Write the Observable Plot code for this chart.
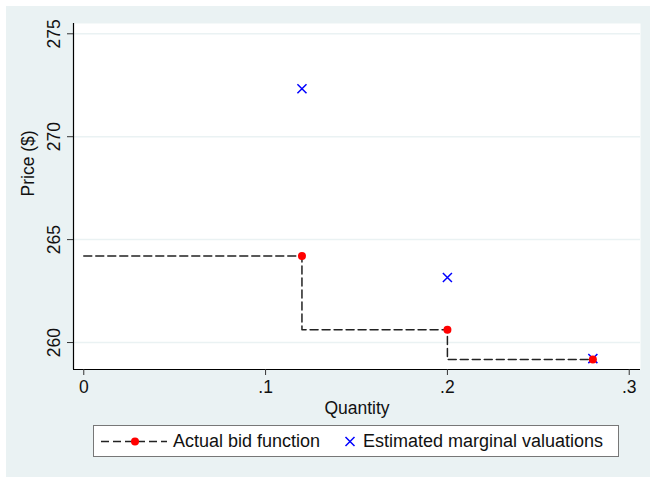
<!DOCTYPE html>
<html>
<head>
<meta charset="utf-8">
<script src="https://cdn.jsdelivr.net/npm/d3@7"></script>
<script src="https://cdn.jsdelivr.net/npm/@observablehq/plot@0.6"></script>
<style>
  html, body { margin: 0; padding: 0; background: #ffffff; }
  #wrap { position: relative; width: 650px; height: 477px; overflow: hidden; font-family: Arial, "Liberation Sans", sans-serif; }
  #bg { position: absolute; left: 6px; top: 6px; right: 0; bottom: 0; background: #EAF2F3; }
  #chart { position: absolute; left: 0; top: 0; }
  #legend { position: absolute; left: 93px; top: 425px; width: 524px; height: 30px; background: #fff; border: 1.5px solid #777; box-sizing: content-box; }
  #legend .item { position: absolute; top: 0; height: 30px; line-height: 30px; font-size: 18px; color: #111; white-space: nowrap; }
  #legend svg { position: absolute; top: 0; }
</style>
</head>
<body>
<div id="wrap">
  <div id="bg"></div>
  <div id="chart"></div>
  <div id="legend"></div>
</div>
<script>
// ---- data ----
const quantity = [0.12, 0.2, 0.28];
const bidPrice = [264.2, 260.62, 259.17];
const valuation = [272.33, 263.16, 259.22];
const bidStartQuantity = 0;
const xTicks = [0, 0.1, 0.2, 0.3];
const xTickLabels = ["0", ".1", ".2", ".3"];
const yTicks = [260, 265, 270, 275];
const seriesNames = ["Actual bid function", "Estimated marginal valuations"];
const xLabel = "Quantity";
const yLabel = "Price ($)";

// tables built from the arrays
const bidPoints = quantity.map((q, i) => ({q, p: bidPrice[i]}));
const stepLine = [{q: bidStartQuantity, p: bidPrice[0]}, ...bidPoints];
const valPoints = quantity.map((q, i) => ({q, p: valuation[i]}));
const xLab = new Map(xTicks.map((t, i) => [t, xTickLabels[i]]));

const fs = 17.5;
const chart = Plot.plot({
  width: 650,
  height: 420,
  marginLeft: 73,
  marginRight: 10,
  marginTop: 23,
  marginBottom: 51,
  style: {background: "transparent", fontFamily: "Arial, 'Liberation Sans', sans-serif", fontSize: fs + "px", color: "#111"},
  x: {domain: [-0.00565, 0.3062], axis: null},
  y: {domain: [258.69, 275.5], axis: null},
  marks: [
    Plot.frame({fill: "white", stroke: null}),
    Plot.ruleY(yTicks, {stroke: "#EAF2F3", strokeWidth: 1.5}),
    // axis lines
    Plot.ruleX([-0.00565], {stroke: "#000", strokeWidth: 1.2}),
    Plot.ruleY([258.69], {stroke: "#000", strokeWidth: 1.2}),
    // ticks
    Plot.axisX(xTicks, {tickSize: 6, tickPadding: 5, tickFormat: d => xLab.get(d), label: null, stroke: "#333", fontSize: fs}),
    Plot.axisY(yTicks, {tickSize: 6, tickFormat: () => "", label: null, stroke: "#333"}),
    Plot.text(yTicks, {y: d => d, text: d => String(d), frameAnchor: "left", dx: -19.5, rotate: -90, textAnchor: "middle", lineAnchor: "middle", fontSize: fs, fill: "#111"}),
    Plot.text([xLabel], {frameAnchor: "bottom", dy: 39, lineAnchor: "middle", fontSize: fs, fill: "#111"}),
    Plot.text([yLabel], {frameAnchor: "left", dx: -45, rotate: -90, lineAnchor: "middle", fontSize: fs, fill: "#111"}),
    // data
    Plot.line(stepLine, {x: "q", y: "p", curve: "step-before", stroke: "#222", strokeWidth: 1.5, strokeDasharray: "8,4"}),
    Plot.dot(valPoints, {x: "q", y: "p", symbol: "times", r: 4.2, stroke: "#0000FF", strokeWidth: 1.5}),
    Plot.dot(bidPoints, {x: "q", y: "p", r: 4, fill: "#FF0000", stroke: null})
  ]
});
document.getElementById("chart").appendChild(chart);

// legend (HTML, below the plot)
const legend = document.getElementById("legend");
legend.innerHTML = `
  <svg width="70" height="30" style="left:5px">
    <line x1="2" y1="15.5" x2="68" y2="15.5" stroke="#222" stroke-width="1.5" stroke-dasharray="8,4"></line>
    <circle cx="36" cy="15.5" r="4" fill="#FF0000"></circle>
  </svg>
  <div class="item" style="left:79px">${seriesNames[0]}</div>
  <svg width="14" height="30" style="left:249px">
    <path d="M2.5,11 L11.5,20 M11.5,11 L2.5,20" stroke="#0000FF" stroke-width="1.5"></path>
  </svg>
  <div class="item" style="left:269px">${seriesNames[1]}</div>
`;
</script>
</body>
</html>
